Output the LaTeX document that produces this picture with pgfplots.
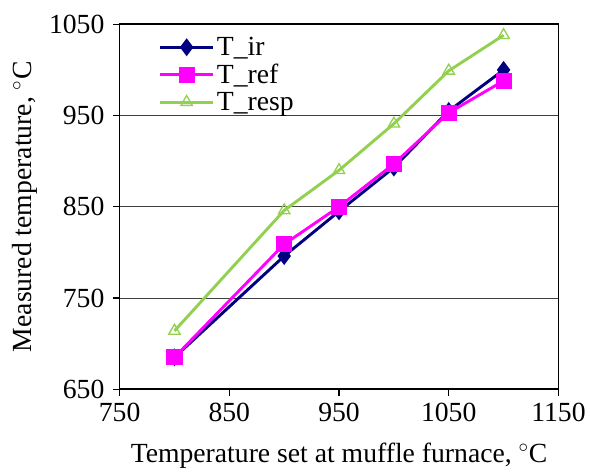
\documentclass[border=0pt]{standalone}
\usepackage{pgfplots}
\pgfplotsset{compat=1.18}
\usepackage{fontspec}
\setmainfont{Liberation Serif}
\definecolor{irblue}{RGB}{0,0,128}
\definecolor{refmag}{RGB}{255,0,255}
\definecolor{respgreen}{RGB}{146,208,80}
\begin{document}
\begin{tikzpicture}
\begin{axis}[
    scale only axis, width=333pt, height=277pt,
    xmin=750, xmax=1150, ymin=650, ymax=1050,
    xtick={750,850,...,1150}, ytick={650,750,...,1050},
    tick pos=left,
    tick align=outside, major tick length=5pt,
    tick style={black, line width=0.9pt},
    ymajorgrids, grid style={black!75, line width=0.8pt},
    axis line style={line width=1.3pt},
    /pgf/number format/assume math mode=true,
    /pgf/number format/1000 sep={},
    tick label style={font=\rmfamily\fontsize{21}{24}\selectfont},
    xticklabel style={yshift=-2pt},
    yticklabel style={xshift=-3pt},
    label style={font=\rmfamily\fontsize{21}{24}\selectfont},
    xlabel={Temperature set at muffle furnace, $^\circ$C},
    xlabel style={yshift=-9pt},
    ylabel={Measured temperature, $^\circ$C},
    ylabel style={yshift=2pt},
    legend style={font=\rmfamily\fontsize{21}{24}\selectfont, draw=none, fill=none,
        at={(0.08,0.98)}, anchor=north west, row sep=1pt},
    legend cell align=left,
    legend image code/.code={\draw[mark repeat=2,mark phase=2,#1]
        plot coordinates {(0cm,0cm) (0.7cm,0cm) (1.4cm,0cm)};},
]
\addplot[irblue, line width=2.2pt, mark=diamond*, mark size=5pt] coordinates {
(800,685) (900,796) (950,845) (1000,893) (1050,955) (1100,1000)};
\addplot[refmag, line width=2.2pt, mark=square*, mark size=5pt] coordinates {
(800,685) (900,809) (950,850) (1000,897) (1050,953) (1100,988)};
\addplot[respgreen, line width=2.2pt, mark=triangle, mark size=5pt, mark options={fill=white, line width=1pt}] coordinates {
(800,714) (900,846) (950,890) (1000,941) (1050,999) (1100,1038)};
\legend{T\_ir, T\_ref, T\_resp}
\end{axis}
\path (current bounding box.north west) ++(-6pt,8pt);
\end{tikzpicture}
\end{document}
